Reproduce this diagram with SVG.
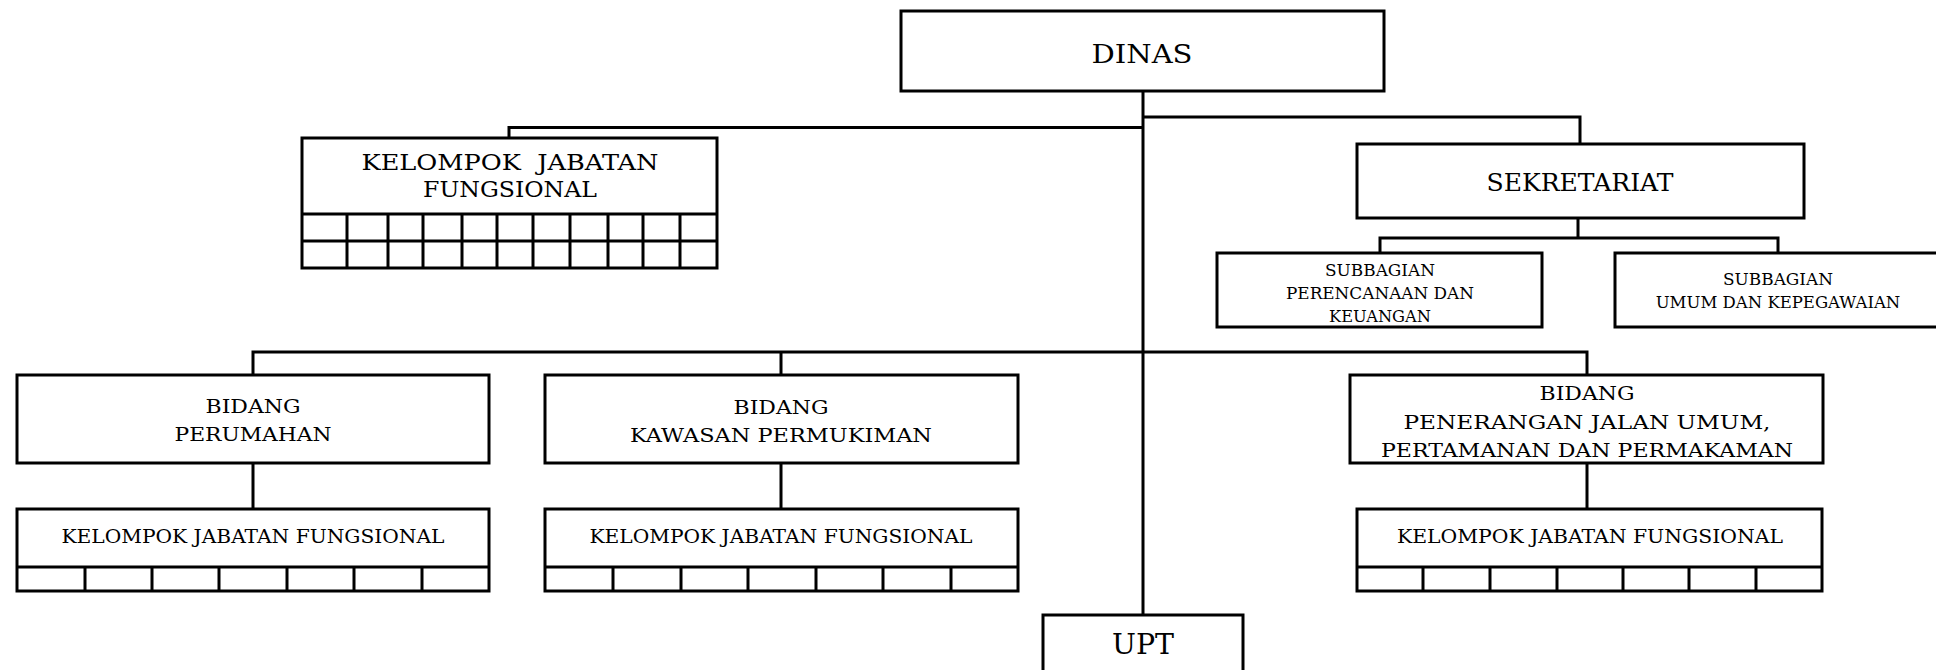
<svg xmlns="http://www.w3.org/2000/svg" width="1936" height="670" viewBox="0 0 1936 670">
<style>
.box{fill:#fff;stroke:#000;stroke-width:3}
.ln{fill:none;stroke:#000;stroke-width:3}
text{font-family:"DejaVu Serif","Liberation Serif",serif;fill:#000;text-anchor:middle}
.t26{font-size:26px}.t22{font-size:22px}.t24{font-size:24px}.t16{font-size:16.5px}.t18{font-size:18px}.t28{font-size:28px}
</style>
<rect width="1936" height="670" fill="#fff"/>
<g id="connectors">
<path class="ln" d="M1143 91V615"/>
<path class="ln" d="M1143 127.5H509V138"/>
<path class="ln" d="M1143 117H1580V144"/>
<path class="ln" d="M1578 218V238M1380 253V238H1778V253"/>
<path class="ln" d="M253 375V352H1587V375M781 352V375"/>
<path class="ln" d="M253 463V509M781 463V509M1587 463V509"/>
</g>
<g id="dinas">
<rect class="box" x="901" y="11" width="483" height="80"/>
<text class="t26" x="1142" y="63" textLength="101" lengthAdjust="spacingAndGlyphs">DINAS</text>
</g>
<g id="kjf-top">
<rect class="box" x="302" y="138" width="415" height="130"/>
<path class="ln" d="M302 214H717M302 241H717M347 214V268M388 214V268M423 214V268M462 214V268M497 214V268M533 214V268M570 214V268M608 214V268M643 214V268M680 214V268"/>
<text class="t22" x="510" y="170" xml:space="preserve" textLength="297" lengthAdjust="spacingAndGlyphs">KELOMPOK  JABATAN</text>
<text class="t22" x="510" y="197" textLength="174" lengthAdjust="spacingAndGlyphs">FUNGSIONAL</text>
</g>
<g id="sekretariat">
<rect class="box" x="1357" y="144" width="447" height="74"/>
<text class="t24" x="1580" y="191" textLength="187" lengthAdjust="spacingAndGlyphs">SEKRETARIAT</text>
</g>
<g id="sub-perencanaan">
<rect class="box" x="1217" y="253" width="325" height="74"/>
<text class="t16" x="1380" y="275.5" textLength="110" lengthAdjust="spacingAndGlyphs">SUBBAGIAN</text>
<text class="t16" x="1380" y="298.5" textLength="188" lengthAdjust="spacingAndGlyphs">PERENCANAAN DAN</text>
<text class="t16" x="1380" y="322" textLength="102" lengthAdjust="spacingAndGlyphs">KEUANGAN</text>
</g>
<g id="sub-umum">
<rect class="box" x="1615" y="253" width="330" height="74"/>
<text class="t16" x="1778" y="285" textLength="110" lengthAdjust="spacingAndGlyphs">SUBBAGIAN</text>
<text class="t16" x="1778" y="308">UMUM DAN KEPEGAWAIAN</text>
</g>
<g id="bidang-perumahan">
<rect class="box" x="17" y="375" width="472" height="88"/>
<text class="t18" x="253" y="413" textLength="95" lengthAdjust="spacingAndGlyphs">BIDANG</text>
<text class="t18" x="253" y="441" textLength="157" lengthAdjust="spacingAndGlyphs">PERUMAHAN</text>
</g>
<g id="kjf-perumahan">
<rect class="box" x="17" y="509" width="472" height="82"/>
<path class="ln" d="M17 567H489M85 567V591M152 567V591M219 567V591M287 567V591M354 567V591M422 567V591"/>
<text class="t18" x="253" y="543" textLength="383" lengthAdjust="spacingAndGlyphs">KELOMPOK JABATAN FUNGSIONAL</text>
</g>
<g id="bidang-kawasan">
<rect class="box" x="545" y="375" width="473" height="88"/>
<text class="t18" x="781" y="414" textLength="95" lengthAdjust="spacingAndGlyphs">BIDANG</text>
<text class="t18" x="781" y="442" textLength="302" lengthAdjust="spacingAndGlyphs">KAWASAN PERMUKIMAN</text>
</g>
<g id="kjf-kawasan">
<rect class="box" x="545" y="509" width="473" height="82"/>
<path class="ln" d="M545 567H1018M613 567V591M681 567V591M748 567V591M816 567V591M883 567V591M951 567V591"/>
<text class="t18" x="781" y="543" textLength="383" lengthAdjust="spacingAndGlyphs">KELOMPOK JABATAN FUNGSIONAL</text>
</g>
<g id="bidang-pju">
<rect class="box" x="1350" y="375" width="473" height="88"/>
<text class="t18" x="1587" y="400" textLength="95" lengthAdjust="spacingAndGlyphs">BIDANG</text>
<text class="t18" x="1587" y="429" textLength="367" lengthAdjust="spacingAndGlyphs">PENERANGAN JALAN UMUM,</text>
<text class="t18" x="1587" y="457" textLength="412" lengthAdjust="spacingAndGlyphs">PERTAMANAN DAN PERMAKAMAN</text>
</g>
<g id="kjf-pju">
<rect class="box" x="1357" y="509" width="465" height="82"/>
<path class="ln" d="M1357 567H1822M1423 567V591M1490 567V591M1557 567V591M1623 567V591M1689 567V591M1756 567V591"/>
<text class="t18" x="1590" y="543" textLength="386" lengthAdjust="spacingAndGlyphs">KELOMPOK JABATAN FUNGSIONAL</text>
</g>
<g id="upt">
<rect class="box" x="1043" y="615" width="200" height="80"/>
<text class="t28" x="1143" y="654" textLength="62" lengthAdjust="spacingAndGlyphs">UPT</text>
</g>
</svg>
